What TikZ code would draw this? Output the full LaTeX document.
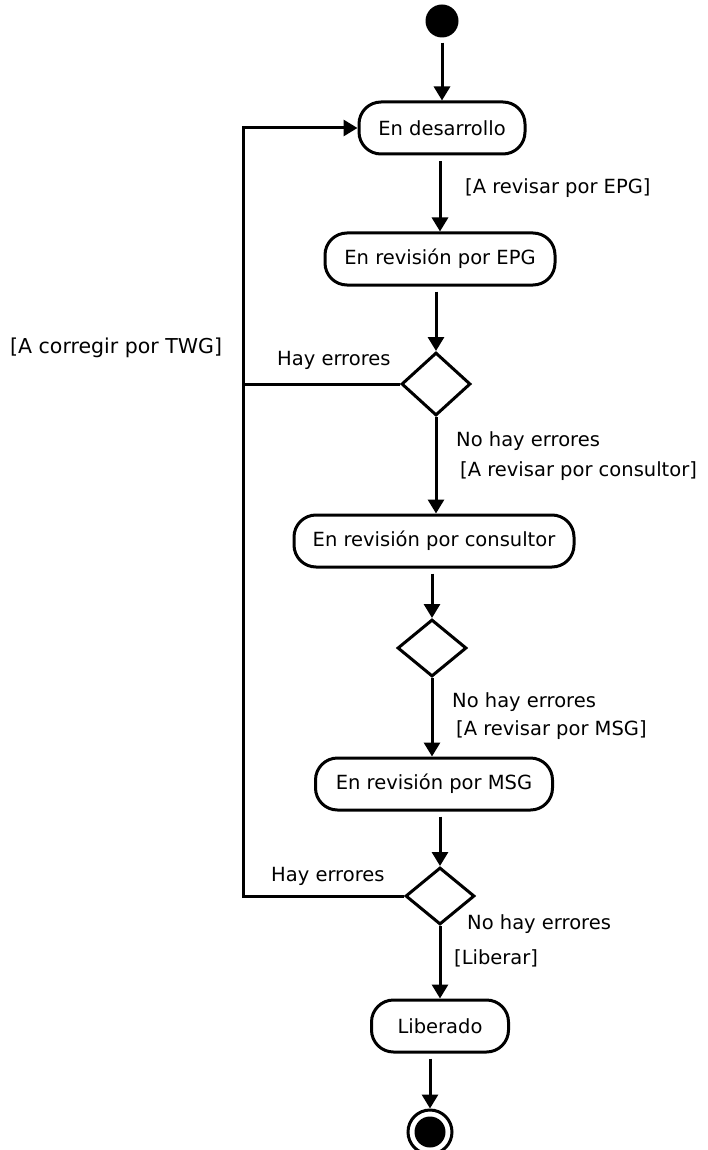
\documentclass[tikz,border=0pt]{standalone}
\usepackage{fontspec}
\setmainfont{DejaVu Sans}
\usetikzlibrary{arrows.meta,shapes.geometric}
\newcommand{\lblfont}{\fontsize{19.5}{23}\selectfont}
\begin{document}
\begin{tikzpicture}[x=1pt,y=-1pt,
  act/.style={draw, line width=3pt, rounded corners=22pt, minimum height=52pt, inner sep=0pt, font=\lblfont},
  dec/.style={diamond, draw, line width=3pt, minimum width=69pt, inner sep=0pt},
  flow/.style={line width=3pt, -{Triangle[width=16pt,length=14pt]}},
  plain/.style={line width=3pt},
  lab/.style={anchor=west, inner sep=0pt, font=\lblfont}]
\useasboundingbox (0,0) rectangle (707,1150);
% nodes
\node[circle, fill, minimum size=33pt, inner sep=0pt] (start) at (442,21) {};
\node[act, minimum width=166pt] (des) at (442,128) {En desarrollo};
\node[act, minimum width=230pt] (epg) at (440,259) {En revisión por EPG};
\node[dec, minimum height=63pt] (d1) at (436,384) {};
\node[act, minimum width=280pt] (cons) at (434,541) {En revisión por consultor};
\node[dec, minimum height=57pt] (d2) at (432,648) {};
\node[act, minimum width=237pt] (msg) at (434,784) {En revisión por MSG};
\node[dec, minimum height=57pt] (d3) at (440,896) {};
\node[act, minimum width=137pt] (lib) at (440,1026) {Liberado};
\node[circle, draw, fill=white, line width=3pt, minimum size=44pt, inner sep=0pt] (fin) at (430,1132) {};
\node[circle, fill, minimum size=31pt, inner sep=0pt] (finin) at (fin.center) {};
\coordinate (loop) at (243,128);
% connectors
\draw[flow, shorten <=5pt] (start) -- (start |- des.north);
\draw[flow, shorten <=6pt] (des.south -| 440,0) -- (440,0 |- epg.north);
\draw[flow, shorten <=5pt] (d1.north |- epg.south) -- (d1.north);
\draw[flow] (d1.south) -- (d1.south |- cons.north);
\draw[flow, shorten <=5pt] (d2.north |- cons.south) -- (d2.north);
\draw[flow] (d2.south) -- (d2.south |- msg.north);
\draw[flow, shorten <=5pt] (d3.north |- msg.south) -- (d3.north);
\draw[flow] (d3.south) -- (d3.south |- lib.north);
\draw[flow, shorten <=5pt] (fin.north |- lib.south) -- (fin.north);
\draw[plain] (d1.west) -- (d1.west -| loop);
\draw[flow] (d3.west) -| (loop) -- (des.west);
% labels
\node[lab] (l1) at (465,188) {[A revisar por EPG]};
\node[lab, font=\fontsize{20.5}{24}\selectfont] (l2) at (10,348) {[A corregir por TWG]};
\node[lab] (l3) at (277,360) {Hay errores};
\node[lab] (l4) at (456,441) {No hay errores};
\node[lab] (l5) at (460,471) {[A revisar por consultor]};
\node[lab] (l6) at (452,702) {No hay errores};
\node[lab] (l7) at (456,730) {[A revisar por MSG]};
\node[lab] (l8) at (271,876) {Hay errores};
\node[lab] (l9) at (467,924) {No hay errores};
\node[lab] (l10) at (454,958) {[Liberar]};
\end{tikzpicture}
\end{document}
